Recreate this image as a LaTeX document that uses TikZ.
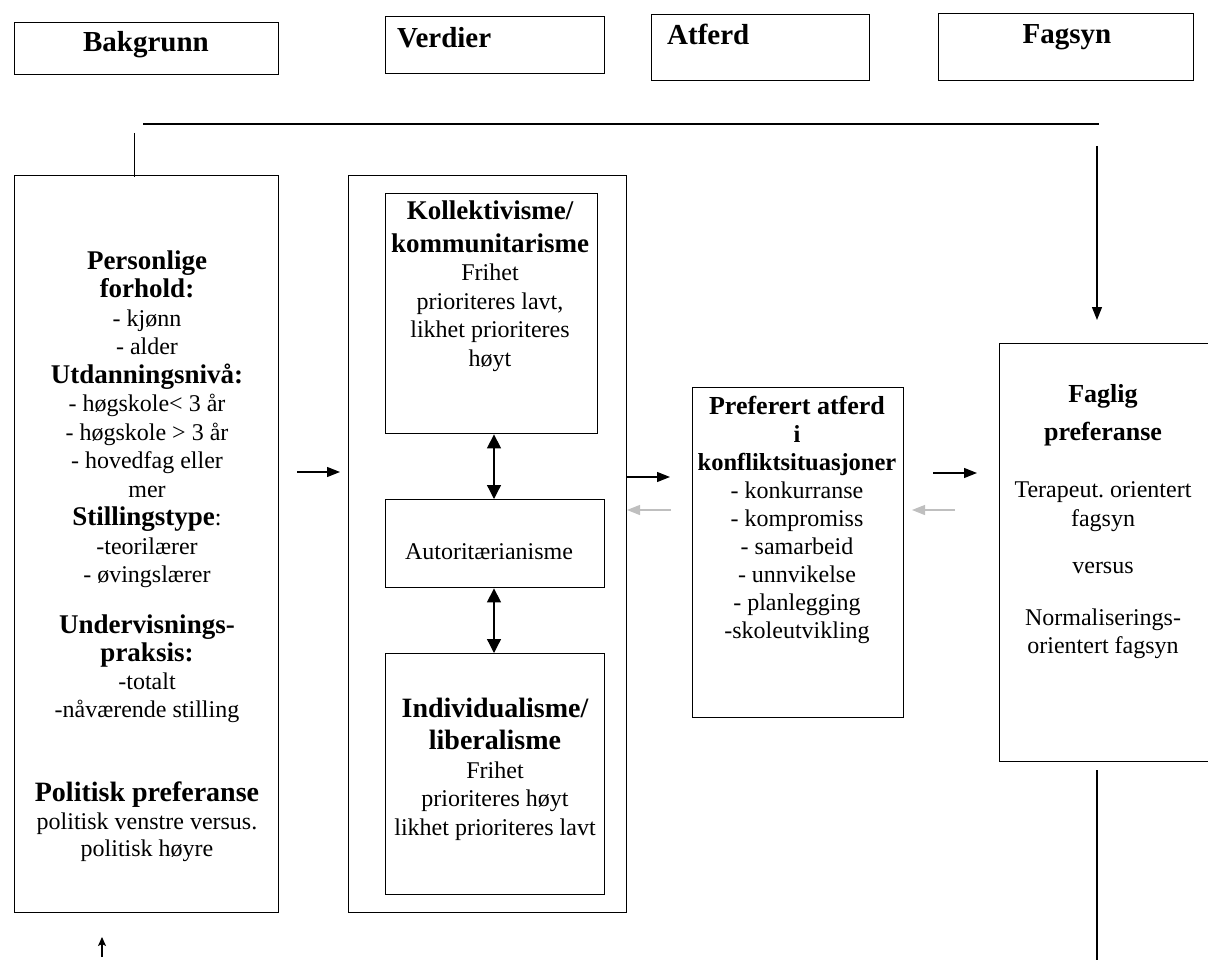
\documentclass[tikz,border=0pt]{standalone}
\usepackage{fontspec}
\setmainfont{Liberation Serif}
\usetikzlibrary{arrows.meta}
\frenchspacing

\begin{document}
\begin{tikzpicture}[x=1pt,y=-1pt,
  box/.style={draw, line width=1.4pt, inner sep=0pt, anchor=north west},
  txt/.style={inner sep=0pt, align=center, font=\fontsize{24}{28.5}\selectfont},
  hdtxt/.style={inner sep=0pt, font=\bfseries\fontsize{29}{32}\selectfont},
  arr/.style={line width=1.3pt, -{Triangle[length=13pt,width=10pt]}},
  garr/.style={line width=1.1pt, draw=black!25, -{Triangle[length=13pt,width=10pt,fill=black!25]}},
  dbl/.style={line width=1.3pt, {Triangle[length=14pt,width=14pt]}-{Triangle[length=14pt,width=14pt]}},
  conn/.style={line width=1.3pt},
  smallarr/.style={line width=1.1pt, -{Stealth[length=9pt,width=8pt,inset=2pt]}}
]
\useasboundingbox (0,0) rectangle (1208,971);

% header boxes
\node[box, minimum width=264pt, minimum height=52pt] (hb) at (14,22) {};
\node[box, minimum width=219pt, minimum height=57pt] (hv) at (385,16) {};
\node[box, minimum width=218pt, minimum height=66pt] (ha) at (651,14) {};
\node[box, minimum width=255pt, minimum height=67pt] (hf) at (938,13) {};
\node[hdtxt, anchor=base] (tb) at (146,52) {Bakgrunn};
\node[hdtxt, anchor=base west] (tv) at (397,48) {Verdier};
\node[hdtxt, anchor=base west] (ta) at (667,45) {Atferd};
\node[hdtxt, anchor=base] (tf) at (1067,44) {Fagsyn};

% main boxes
\node[box, minimum width=264pt, minimum height=737pt] (bg) at (14,175) {};
\node[box, minimum width=278pt, minimum height=737pt] (mid) at (348,175) {};
\node[box, minimum width=212pt, minimum height=240pt] (kol) at (385,193) {};
\node[box, minimum width=219pt, minimum height=88pt] (aut) at (385,499) {};
\node[box, minimum width=219pt, minimum height=241pt] (ind) at (385,653) {};
\node[box, minimum width=211pt, minimum height=330pt] (pref) at (692,387) {};
\node[box, minimum width=210pt, minimum height=418pt] (fag) at (999,343) {};

% background factors
\node[txt] (bg1) at (147,419) {{\bfseries\fontsize{27}{30}\selectfont Personlige}\\
  {\bfseries\fontsize{27}{30}\selectfont forhold:}\\
  - kjønn\\ - alder\\
  {\bfseries\fontsize{27}{30}\selectfont Utdanningsnivå:}\\
  - høgskole< 3 år\\ - høgskole > 3 år\\ - hovedfag eller\\ mer\\
  {\bfseries\fontsize{27}{30}\selectfont Stillingstype}:\\
  -teorilærer\\ - øvingslærer};
\node[txt, font=\fontsize{24}{28}\selectfont] (bg2) at (147,669) {{\bfseries\fontsize{27}{30}\selectfont Undervisnings-}\\
  {\bfseries\fontsize{27}{30}\selectfont praksis:}\\
  -totalt\\ -nåværende stilling};
\node[txt, font=\fontsize{24}{27.5}\selectfont] (bg3) at (147,822) {{\bfseries\fontsize{28}{30}\selectfont Politisk preferanse}\\
  politisk venstre versus.\\ politisk høyre};

% value orientations
\node[txt] (kolt) at (490,286) {{\bfseries\fontsize{27}{30}\selectfont Kollektivisme/}\\[4pt]
  {\bfseries\fontsize{27}{30}\selectfont kommunitarisme}\\
  Frihet\\ prioriteres lavt,\\ likhet prioriteres\\ høyt};
\node[txt] (autt) at (489,552) {Autoritærianisme};
\node[txt] (indt) at (495,769) {{\bfseries\fontsize{28}{30}\selectfont Individualisme/}\\[4pt]
  {\bfseries\fontsize{28}{30}\selectfont liberalisme}\\
  Frihet\\ prioriteres høyt\\ likhet prioriteres lavt};

% preferred behaviour
\node[txt, font=\fontsize{24}{28}\selectfont] (preft) at (797,520) {{\bfseries\fontsize{26}{30}\selectfont Preferert atferd}\\
  {\bfseries\fontsize{24.5}{30}\selectfont i}\\
  {\bfseries\fontsize{24.5}{30}\selectfont konfliktsituasjoner}\\
  - konkurranse\\ - kompromiss\\ - samarbeid\\ - unnvikelse\\ - planlegging\\ -skoleutvikling};

% professional view
\node[txt] (fagt) at (1103,522) {{\bfseries\fontsize{26}{30}\selectfont Faglig}\\[9pt]
  {\bfseries\fontsize{26}{30}\selectfont preferanse}\\[29pt]
  Terapeut. orientert\\ fagsyn\\[19pt]
  versus\\[23pt]
  Normaliserings-\\ orientert fagsyn};

% connector ends
\coordinate (hl1) at (143,124);
\coordinate (hl2) at (1099,124);
\coordinate (tk) at (134,133);
\coordinate (dtop) at (1097,146);
\coordinate (dend) at (1097,320);
\coordinate (rl1) at (1097,770);
\coordinate (rl2) at (1097,960);
\coordinate (ba1) at (102,957);
\coordinate (ba2) at (102,937);
\coordinate (a1s) at (297,472);
\coordinate (a1e) at (340,472);
\coordinate (a2s) at (627,477);
\coordinate (a2e) at (670,477);
\coordinate (g2s) at (671,510);
\coordinate (g2e) at (627,510);
\coordinate (a3s) at (933,473);
\coordinate (a3e) at (977,473);
\coordinate (g3s) at (955,510);
\coordinate (g3e) at (912,510);

% connectors
\draw[line width=1.8pt] (hl1) -- (hl2);
\draw[line width=1pt] (tk) -- ([yshift=-2pt]tk |- bg.north);
\draw[arr] (dtop) -- (dend);
\draw[conn] (rl1) -- (rl2);
\draw[smallarr] (ba1) -- (ba2);
\draw[arr] (a1s) -- (a1e);
\draw[arr] (a2s) -- (a2e);
\draw[garr] (g2s) -- (g2e);
\draw[arr] (a3s) -- (a3e);
\draw[garr] (g3s) -- (g3e);
\draw[dbl] (aut.north -| 494,0) -- (kol.south -| 494,0);
\draw[dbl] (aut.south -| 494,0) -- (ind.north -| 494,0);
\end{tikzpicture}
\end{document}
